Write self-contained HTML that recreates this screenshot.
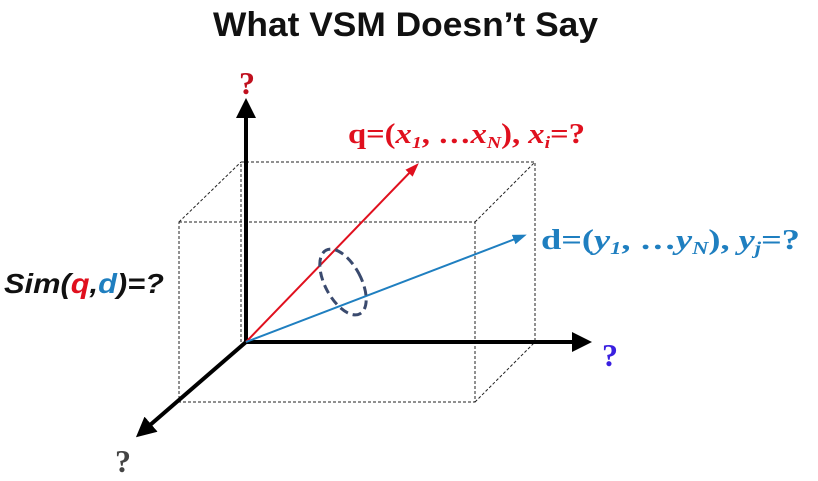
<!DOCTYPE html>
<html><head><meta charset="utf-8"><style>
html,body{margin:0;padding:0;background:#fff;width:818px;height:481px;overflow:hidden}
svg{display:block}
.serif{font-family:"Liberation Serif",serif;font-weight:bold}
</style></head><body>
<svg width="818" height="481" viewBox="0 0 818 481">
<defs>
<marker id="ak" markerWidth="5" markerHeight="5" refX="3" refY="2.5" orient="auto" markerUnits="strokeWidth"><path d="M0,0 L5,2.5 L0,5 z" fill="#000"/></marker>
<marker id="ar" markerWidth="7" markerHeight="7" refX="5" refY="3.5" orient="auto" markerUnits="strokeWidth"><path d="M0,1 L7,3.5 L0,6 z" fill="#e0101e"/></marker>
<marker id="ab" markerWidth="7" markerHeight="7" refX="5" refY="3.5" orient="auto" markerUnits="strokeWidth"><path d="M0,1 L7,3.5 L0,6 z" fill="#1f7fc0"/></marker>
</defs>
<text x="213" y="36" textLength="385" lengthAdjust="spacingAndGlyphs" font-family="Liberation Sans,sans-serif" font-weight="bold" font-size="34" fill="#111">What VSM Doesn’t Say</text>
<g stroke="#222" stroke-width="1" stroke-dasharray="3,2" fill="none">
<rect x="179" y="222" width="296" height="180"/>
<polyline points="241,342 241,162 535,162 535,342"/>
<line x1="179" y1="222" x2="241" y2="162"/>
<line x1="475" y1="222" x2="535" y2="162"/>
<line x1="475" y1="402" x2="535" y2="342"/>
</g>
<line x1="246" y1="342" x2="246" y2="106" stroke="#000" stroke-width="4" marker-end="url(#ak)"/>
<line x1="246" y1="342" x2="584" y2="342" stroke="#000" stroke-width="4" marker-end="url(#ak)"/>
<line x1="246" y1="342" x2="142" y2="432" stroke="#000" stroke-width="4" marker-end="url(#ak)"/>
<line x1="246" y1="342" x2="416" y2="166" stroke="#e0101e" stroke-width="2" marker-end="url(#ar)"/>
<line x1="246" y1="342" x2="523" y2="236" stroke="#1f7fc0" stroke-width="2" marker-end="url(#ab)"/>
<ellipse cx="343" cy="282" rx="18" ry="36" transform="rotate(-28 343 282)" fill="none" stroke="#3a4a6e" stroke-width="3" stroke-dasharray="9,5"/>
<text x="247" y="94" text-anchor="middle" class="serif" font-size="32" fill="#c0101e">?</text>
<text x="610" y="366" text-anchor="middle" class="serif" font-size="32" fill="#3a20e0">?</text>
<text x="123" y="472" text-anchor="middle" class="serif" font-size="32" fill="#444">?</text>
<text x="348" y="143" textLength="237" lengthAdjust="spacingAndGlyphs" class="serif" font-size="28" fill="#e0101e">q=(<tspan font-style="italic">x</tspan><tspan font-style="italic" font-size="17" dy="5">1</tspan><tspan dy="-5">, …</tspan><tspan font-style="italic">x</tspan><tspan font-style="italic" font-size="17" dy="5">N</tspan><tspan dy="-5">), </tspan><tspan font-style="italic">x</tspan><tspan font-style="italic" font-size="17" dy="5">i</tspan><tspan dy="-5">=?</tspan></text>
<text x="541" y="249" textLength="259" lengthAdjust="spacingAndGlyphs" class="serif" font-size="29" fill="#1f7fc0">d=(<tspan font-style="italic">y</tspan><tspan font-style="italic" font-size="18" dy="5">1</tspan><tspan dy="-5">, …</tspan><tspan font-style="italic">y</tspan><tspan font-style="italic" font-size="18" dy="5">N</tspan><tspan dy="-5">), </tspan><tspan font-style="italic">y</tspan><tspan font-style="italic" font-size="18" dy="5">j</tspan><tspan dy="-5">=?</tspan></text>
<text x="4" y="293" textLength="160" lengthAdjust="spacingAndGlyphs" font-family="Liberation Sans,sans-serif" font-weight="bold" font-style="italic" font-size="28" fill="#111">Sim(<tspan fill="#e0101e">q</tspan>,<tspan fill="#1f7fc0">d</tspan>)=?</text>
</svg>
</body></html>
